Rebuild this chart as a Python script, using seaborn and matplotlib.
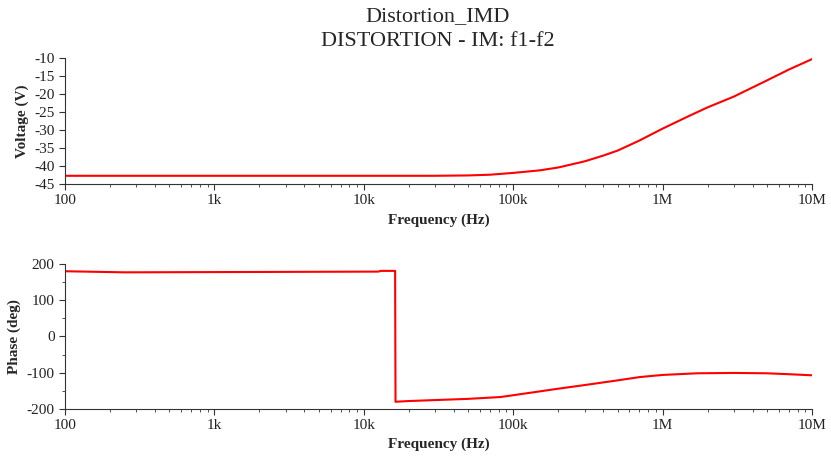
import numpy as np
import pandas as pd
import seaborn as sns
import matplotlib.pyplot as plt
from matplotlib.ticker import FixedLocator, LogLocator, NullFormatter, MultipleLocator

# values
freq_v = [100, 1e3, 1e4, 3e4, 5e4, 7e4, 1e5, 1.5e5, 2e5, 3e5, 4e5, 5e5, 7e5, 1e6,
          1.5e6, 2e6, 3e6, 5e6, 7e6, 1e7]
voltage = [-42.7, -42.7, -42.7, -42.7, -42.6, -42.4, -41.9, -41.2, -40.4, -38.7, -37.1,
           -35.7, -32.9, -29.6, -26.1, -23.7, -20.7, -16.2, -13.2, -10.3]

freq_p = [100, 250, 2e3, 1.25e4, 1.3e4, 1.62e4, 1.63e4, 2e4, 5e4, 8.2e4, 1e5, 2e5, 3e5,
          5e5, 7e5, 1e6, 1.7e6, 3e6, 5e6, 7e6, 1e7]
phase = [180, 177, 178, 179, 181, 181, -180, -178, -172, -167, -162, -144, -134,
         -121, -112, -106, -101.5, -100.5, -101.5, -104, -107]

tick_vals = [100, 1e3, 1e4, 1e5, 1e6, 1e7]
tick_labels = ['100', '1k', '10k', '100k', '1M', '10M']

sns.set_style('white')
plt.rcParams['font.family'] = ['Liberation Serif', 'DejaVu Serif']
plt.rcParams['axes.unicode_minus'] = False

fig = plt.figure(figsize=(8.31, 4.66), dpi=100)
ax1 = fig.add_axes([0.0782, 0.605, 0.899, 0.2705])
ax2 = fig.add_axes([0.0782, 0.1223, 0.899, 0.3112])

df_v = pd.DataFrame({'freq': freq_v, 'voltage': voltage})
df_p = pd.DataFrame({'freq': freq_p, 'phase': phase})

sns.lineplot(data=df_v, x='freq', y='voltage', ax=ax1, color='#ff0000',
             linewidth=1.5, sort=False, estimator=None)
sns.lineplot(data=df_p, x='freq', y='phase', ax=ax2, color='#ff0000',
             linewidth=1.5, sort=False, estimator=None)

for ax in (ax1, ax2):
    ax.set_xscale('log')
    ax.set_xlim(100, 1e7)
    ax.xaxis.set_major_locator(FixedLocator(tick_vals))
    ax.set_xticklabels(tick_labels)
    ax.xaxis.set_minor_locator(LogLocator(base=10, subs=np.arange(2, 10)))
    ax.xaxis.set_minor_formatter(NullFormatter())
    ax.set_xlabel('Frequency (Hz)', fontsize=11, fontweight='bold')
    ax.tick_params(axis='both', which='major', direction='out', length=4, width=0.8,
                   labelsize=11, color='#333333', labelcolor='#222222',
                   bottom=True, left=True)
    ax.tick_params(axis='both', which='minor', direction='out', length=2.5, width=0.6,
                   color='#333333', bottom=True, left=True)
    for side in ('top', 'right'):
        ax.spines[side].set_visible(False)
    for side in ('left', 'bottom'):
        ax.spines[side].set_color('#333333')
        ax.spines[side].set_linewidth(0.8)

ax1.set_ylim(-45, -10)
ax1.set_yticks(np.arange(-45, -9, 5))
ax1.set_ylabel('Voltage (V)', fontsize=11, fontweight='bold')

ax2.set_ylim(-200, 200)
ax2.set_yticks([-200, -100, 0, 100, 200])
ax2.yaxis.set_minor_locator(MultipleLocator(50))
ax2.set_ylabel('Phase (deg)', fontsize=11, fontweight='bold')

fig.text(0.527, 0.965, 'Distortion_IMD', ha='center', va='center', fontsize=16)
fig.text(0.527, 0.912, 'DISTORTION - IM: f1-f2', ha='center', va='center', fontsize=16)

fig.savefig('out.png', dpi=100)
